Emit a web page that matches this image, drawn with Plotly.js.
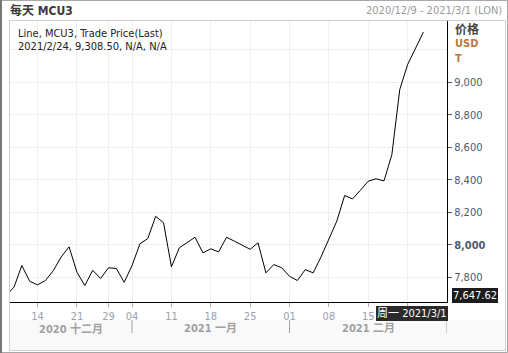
<!DOCTYPE html>
<html>
<head>
<meta charset="utf-8">
<script src="https://cdn.plot.ly/plotly-3.0.1.min.js"></script>
<style>
html,body{margin:0;padding:0;background:#fff;}
#chart{width:508px;height:353px;}
</style>
</head>
<body>
<div id="chart"></div>
<script>
// ---- data ----
const dates = [
  "2020-12-08","2020-12-09","2020-12-10","2020-12-11","2020-12-14","2020-12-15","2020-12-16","2020-12-17","2020-12-18",
  "2020-12-21","2020-12-22","2020-12-23","2020-12-24","2020-12-29","2020-12-30","2020-12-31",
  "2021-01-04","2021-01-05","2021-01-06","2021-01-07","2021-01-08","2021-01-11","2021-01-12","2021-01-13","2021-01-14","2021-01-15",
  "2021-01-18","2021-01-19","2021-01-20","2021-01-21","2021-01-22","2021-01-25","2021-01-26","2021-01-27","2021-01-28","2021-01-29",
  "2021-02-01","2021-02-02","2021-02-03","2021-02-04","2021-02-05","2021-02-08","2021-02-09","2021-02-10","2021-02-11","2021-02-12",
  "2021-02-15","2021-02-16","2021-02-17","2021-02-18","2021-02-19","2021-02-22","2021-02-23","2021-02-24"
];
const prices = [
  7690,7738,7872,7775,7753,7780,7841,7925,7987,
  7831,7749,7843,7792,7858,7854,7769,
  7872,8006,8038,8175,8135,7864,7981,8012,8046,7950,
  7975,7956,8046,8022,7997,7972,8012,7827,7878,7858,
  7806,7780,7847,7827,7925,8032,8145,8303,8282,8335,
  8391,8406,8393,8555,8955,9109,9213,9308.5
];
const extraAxisDates = ["2021-02-25","2021-02-26","2021-03-01"];
const xTickDates = ["2020-12-14","2020-12-21","2020-12-29","2021-01-04","2021-01-11","2021-01-18","2021-01-25","2021-02-01","2021-02-08","2021-02-15","2021-02-22"];
const xTickLabels = ["14","21","29","04","11","18","25","01","08","15",""];
const monthLabels = ["2020 十二月","2021 一月","2021 二月"];
const yTickVals = [7800,8000,8200,8400,8600,8800,9000];
const yGridExtra = [9200];
const yBoldTick = 8000;
const crosshairPrice = 7647.62;
const crosshairLabel = "周一 2021/3/1";
const headerTitle = "每天 MCU3";
const headerRange = "2020/12/9 - 2021/3/1 (LON)";
const legendLine1 = "Line, MCU3, Trade Price(Last)";
const legendLine2 = "2021/2/24, 9,308.50, N/A, N/A";

// ---- layout geometry ----
const W=508, H=353, L=9, R=447, T=21, B=302;
const xp = px => (px - L) / (R - L);
const yp = py => (B - py) / (B - T);
const pxPerUnit = 0.1625;
const yTop = crosshairPrice + (B - T) / pxPerUnit;

const allDates = dates.concat(extraAxisDates);
const xStart = 0.37, xEnd = allDates.length - 1;

const fmt = v => v.toLocaleString('en-US');
const yTickText = yTickVals.map(v => v === yBoldTick ? '<b>' + fmt(v) + '</b>' : fmt(v));

// month groups
const monthStarts = [];
allDates.forEach((d, i) => {
  const m = d.slice(0, 7);
  if (i === 0 || allDates[i-1].slice(0, 7) !== m) monthStarts.push(i);
});
const FONT = "'DejaVu Sans Condensed', 'Liberation Sans', sans-serif";
const CJK = "'DejaVu Sans Condensed', 'Noto Sans CJK SC', sans-serif";

const annotations = [];
monthLabels.forEach((lab, k) => {
  const a = Math.max(monthStarts[k], xStart);
  const b = k + 1 < monthStarts.length ? monthStarts[k+1] : xEnd;
  annotations.push({
    xref: 'x', yref: 'paper', x: (a + b) / 2, y: yp(328.5), xanchor: 'center', yanchor: 'middle',
    text: '<b>' + lab + '</b>', showarrow: false, borderpad: 0,
    font: {family: CJK, size: 11, color: '#a0a0a0'}
  });
});
annotations.push(
  {xref:'paper', yref:'paper', x: xp(8), y: yp(11), xanchor:'left', yanchor:'middle', showarrow:false,
   text:'<b>'+headerTitle+'</b>', font:{family:CJK, size:12, color:'#3a3a3a'}},
  {xref:'paper', yref:'paper', x: xp(504), y: yp(11), xanchor:'right', yanchor:'middle', showarrow:false,
   text: headerRange, font:{family:FONT, size:11, color:'#9a9a9a'}},
  {xref:'paper', yref:'paper', x: xp(16), y: yp(34), xanchor:'left', yanchor:'middle', showarrow:false,
   text: legendLine1, font:{family:FONT, size:11, color:'#222'}},
  {xref:'paper', yref:'paper', x: xp(16), y: yp(46.5), xanchor:'left', yanchor:'middle', showarrow:false,
   text: legendLine2, font:{family:FONT, size:11, color:'#222'}},
  {xref:'paper', yref:'paper', x: xp(454), y: yp(28), xanchor:'left', yanchor:'middle', showarrow:false,
   text:'<b>价格</b>', borderpad:0, font:{family:"'Noto Sans CJK SC', sans-serif", size:12, color:'#444'}},
  {xref:'paper', yref:'paper', x: xp(454), y: yp(44), xanchor:'left', yanchor:'middle', showarrow:false,
   text:'<b>USD</b>', borderpad:0, font:{family:FONT, size:11, color:'#b97a3c'}},
  {xref:'paper', yref:'paper', x: xp(454), y: yp(58), xanchor:'left', yanchor:'middle', showarrow:false,
   text:'<b>T</b>', borderpad:0, font:{family:FONT, size:11, color:'#b97a3c'}},
  {xref:'paper', yref:'paper', x: xp(452), y: yp(295.5), xanchor:'left', yanchor:'middle', showarrow:false,
   text: fmt(crosshairPrice), font:{family:FONT, size:11, color:'#fff'},
   bgcolor:'#1c1c1c', bordercolor:'#1c1c1c', borderwidth:1, borderpad:0},
  {xref:'paper', yref:'paper', x: xp(448), y: yp(313.5), xanchor:'right', yanchor:'middle', showarrow:false,
   text: crosshairLabel, font:{family:CJK, size:11, color:'#fff'},
   bgcolor:'#2a2a2a', bordercolor:'#2a2a2a', borderwidth:1, borderpad:0}
);

const shapes = [
  // lower band background
  {type:'rect', xref:'paper', yref:'paper', x0:xp(9), x1:xp(505.5), y0:yp(350.5), y1:yp(320),
   fillcolor:'#f9f9f9', line:{width:0}, layer:'below'},
  // panel frame
  {type:'rect', xref:'paper', yref:'paper', x0:xp(9.5), x1:xp(505.5), y0:yp(350.5), y1:yp(20.5),
   line:{color:'#cfcfcf', width:1}, fillcolor:'rgba(0,0,0,0)'},
  // outer frame
  {type:'rect', xref:'paper', yref:'paper', x0:xp(0.5), x1:xp(507.5), y0:yp(352.5), y1:yp(0.5),
   line:{color:'#a8a8a8', width:1}, fillcolor:'rgba(0,0,0,0)'},
  {type:'line', xref:'paper', yref:'paper', x0:xp(1), x1:xp(1), y0:yp(353), y1:yp(0),
   line:{color:'#777', width:2}}
];
// month separators
monthStarts.slice(1).forEach(i => {
  shapes.push({type:'line', xref:'x', yref:'paper', x0:allDates[i], x1:allDates[i], y0:yp(320), y1:yp(333),
    line:{color:'#a0a0a0', width:1}});
});

const traces = [
  {x: allDates, y: allDates.map(() => null), type:'scatter', mode:'lines', hoverinfo:'skip', showlegend:false,
   line:{color:'rgba(0,0,0,0)'}},
  {x: dates, y: prices, type:'scatter', mode:'lines', line:{color:'#000', width:1}, showlegend:false}
];

const layout = {
  width: W, height: H,
  margin: {l: L, r: W - R, t: T, b: H - B, pad: 0},
  paper_bgcolor: '#fff', plot_bgcolor: '#fff',
  showlegend: false,
  xaxis: {
    type: 'category', categoryorder: 'array', categoryarray: allDates,
    range: [xStart, xEnd], fixedrange: true,
    tickvals: xTickDates, ticktext: xTickLabels,
    ticks: 'outside', ticklen: 4, tickcolor: '#aaa', tickwidth: 1,
    tickfont: {family: FONT, size: 11, color: '#9aa2ad'},
    showgrid: true, gridcolor: '#efefef', gridwidth: 1,
    showline: true, linecolor: '#000', linewidth: 1, zeroline: false
  },
  yaxis: {
    side: 'right', range: [crosshairPrice, yTop], fixedrange: true,
    tickvals: yTickVals, ticktext: yTickText,
    ticks: 'outside', ticklen: 4, tickcolor: '#555', tickwidth: 1,
    tickfont: {family: FONT, size: 11, color: '#4e5a6b'},
    showgrid: true, gridcolor: '#efefef', gridwidth: 1,
    minor: {tickvals: yGridExtra, showgrid: true, gridcolor: '#efefef', ticks: ''},
    showline: true, linecolor: '#000', linewidth: 1, zeroline: false
  },
  annotations: annotations,
  shapes: shapes
};

Plotly.newPlot('chart', traces, layout, {displayModeBar: false, staticPlot: true});
</script>
</body>
</html>
